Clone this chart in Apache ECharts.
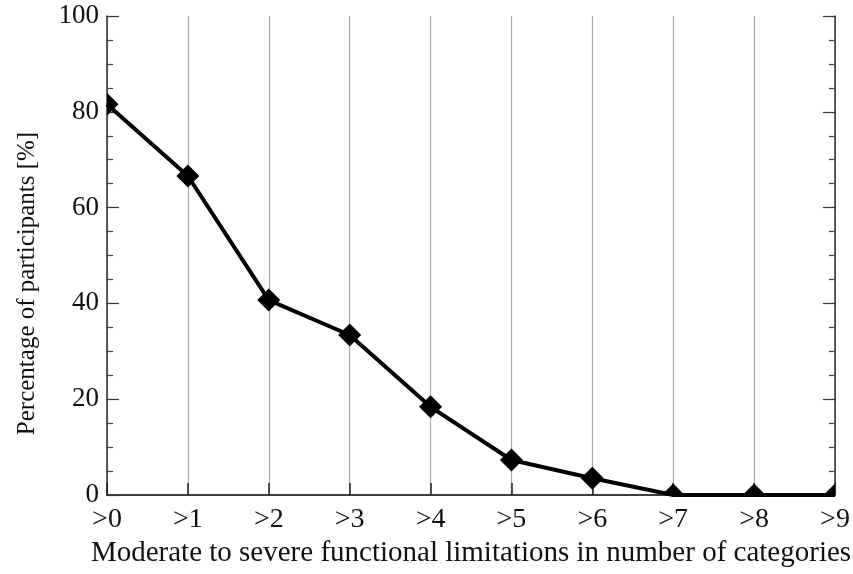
<!DOCTYPE html>
<html>
<head>
<meta charset="utf-8">
<script src="https://cdn.jsdelivr.net/npm/echarts@6/dist/echarts.min.js"></script>
<style>
html,body{margin:0;padding:0;background:#fff;}
#c{width:853px;height:574px;}
</style>
</head>
<body>
<div id="c"></div>
<script>
const categories = ['>0','>1','>2','>3','>4','>5','>6','>7','>8','>9'];
const percentages = [81.6, 66.6, 40.7, 33.4, 18.4, 7.3, 3.5, 0, 0, 0];
const yTicks = [0, 20, 40, 60, 80, 100];

const FONT = 'Liberation Serif';
const chart = echarts.init(document.getElementById('c'));

const yCommon = {
  type: 'value',
  min: yTicks[0],
  max: yTicks[yTicks.length - 1],
  interval: yTicks[1] - yTicks[0],
  axisLine: { show: true, lineStyle: { color: '#333', width: 1.5 } },
  axisTick: { show: true, inside: true, length: 12, lineStyle: { color: '#333', width: 1.2 } },
  minorTick: { show: true, splitNumber: 4, length: 6, lineStyle: { color: '#444', width: 1.2 } },
  splitLine: { show: false }
};

chart.setOption({
  animation: false,
  backgroundColor: '#fff',
  grid: { left: 107, right: 18, top: 16, bottom: 79, containLabel: false, outerBoundsMode: 'none' },
  xAxis: [{
    type: 'category',
    data: categories,
    boundaryGap: false,
    position: 'bottom',
    axisLine: { show: true, lineStyle: { color: '#333', width: 1.5 } },
    axisTick: { show: true, inside: true, length: 12, alignWithLabel: true, lineStyle: { color: '#222', width: 1.5 } },
    axisLabel: { show: true, fontFamily: FONT, fontSize: 28, color: '#111', margin: 11 },
    splitLine: { show: true, lineStyle: { color: '#aaa', width: 1.2 } },
    name: 'Moderate to severe functional limitations in number of categories',
    nameLocation: 'middle',
    nameGap: 43,
    nameTextStyle: { fontFamily: FONT, fontSize: 29, color: '#111' }
  }, {
    type: 'category',
    data: categories,
    boundaryGap: false,
    position: 'top',
    axisLine: { show: true, lineStyle: { color: '#333', width: 1.5 } },
    axisTick: { show: false },
    axisLabel: { show: false },
    splitLine: { show: false }
  }],
  yAxis: [Object.assign({}, yCommon, {
    position: 'left',
    axisLabel: { show: true, fontFamily: FONT, fontSize: 27, color: '#111', margin: 8 },
    name: 'Percentage of participants [%]',
    nameLocation: 'middle',
    nameGap: 67,
    nameTextStyle: { fontFamily: FONT, fontSize: 25, color: '#111', padding: [0, 56, 0, 0] }
  }), Object.assign({}, yCommon, {
    position: 'right',
    axisLabel: { show: false }
  })],
  series: [{
    type: 'line',
    data: percentages,
    xAxisIndex: 0,
    yAxisIndex: 0,
    showSymbol: false,
    symbol: 'none',
    clip: true,
    lineStyle: { color: '#000', width: 4 },
    z: 3
  }, {
    type: 'custom',
    data: percentages.map((v, i) => [i, v]),
    xAxisIndex: 0,
    yAxisIndex: 0,
    clip: true,
    z: 4,
    renderItem: function (params, api) {
      const p = api.coord([api.value(0), api.value(1)]);
      const r = 11.5;
      return {
        type: 'polygon',
        shape: { points: [[p[0], p[1] - r], [p[0] + r, p[1]], [p[0], p[1] + r], [p[0] - r, p[1]]] },
        style: { fill: '#000' }
      };
    }
  }]
});
</script>
</body>
</html>
